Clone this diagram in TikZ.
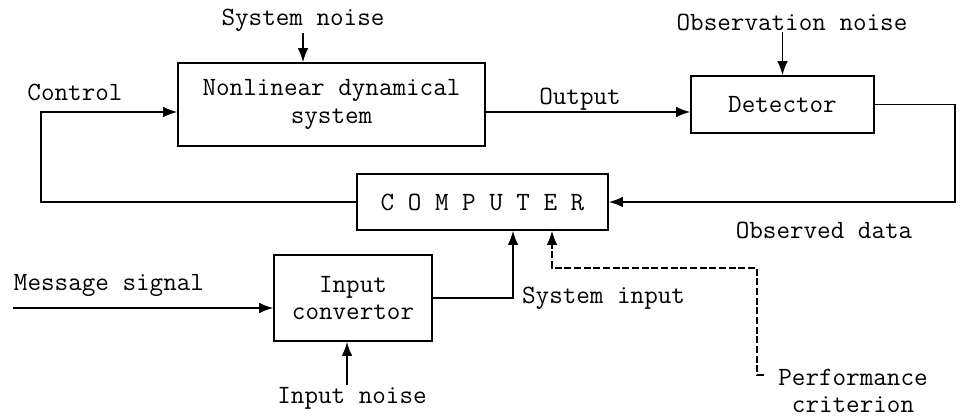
\documentclass[tikz,border=0pt]{standalone}
\usepackage{tikz}
\usetikzlibrary{positioning,arrows.meta}

\begin{document}
\begin{tikzpicture}[
x=0.02cm, y=-0.02cm,
font=\ttfamily\fontsize{15}{15.5}\selectfont,
block/.style={draw, line width=0.9pt, align=center, inner sep=0pt},
lbl/.style={align=center, inner sep=1pt},
arr/.style={-{Latex[length=8pt,width=6pt]}, line width=0.9pt},
>=latex
]
\useasboundingbox (0,0) rectangle (962,418);

% blocks
\node (nds) [block, minimum width=6.14cm, minimum height=1.66cm] at (331.5,104.5) {Nonlinear dynamical\\system};
\node (det) [block, minimum width=3.66cm, minimum height=1.14cm] at (782.5,104.5) {Detector};
\node (comp) [block, minimum width=5.02cm, minimum height=1.12cm] at (482.5,202) {C O M P U T E R};
\node (conv) [block, minimum width=3.16cm, minimum height=1.72cm] at (353,298) {Input\\convertor};

% labels
\node (sysnoise) [lbl] at (303,20) {System noise};
\node (obsnoise) [lbl] at (792,22) {Observation noise};
\node (ctl) [lbl] at (75,92) {Control};
\node (outl) [lbl] at (580,99) {Output};
\node (obsdata) [lbl] at (824,230) {Observed data};
\node (msgl) [lbl] at (109,285) {Message signal};
\node (inoise) [lbl] at (352,398) {Input noise};
\node (sysin) [lbl, anchor=west] at (520,298) {System input};
\node (perf) [lbl] at (853,391) {Performance\\criterion};

% corners
\coordinate (cL) at (41,112);
\coordinate (dR) at (955,202);
\coordinate (msg) at (13,308);
\coordinate (sI) at (513,298);
\coordinate (pcA) at (552,268);
\coordinate (pcB) at (757,268);
\coordinate (pcC) at (757,375);
\coordinate (pcT) at (764,375);

\draw[arr] (sysnoise) -- (sysnoise |- nds.north);
\draw[arr] (obsnoise.south -| det.north) -- (det.north);
\draw[arr] (comp.west) -| (cL) -- (cL -| nds.west);
\draw[arr] ([yshift=-0.15cm]nds.east) -- ([yshift=-0.15cm]nds.east -| det.west);
\draw[arr] (det.east) -| (dR) -- (comp.east);
\draw[arr] (msg) -- (msg -| conv.west);
\draw[arr] ([xshift=-0.1cm]inoise.north) -- ([xshift=-0.1cm]inoise.north |- conv.south);
\draw[arr] (conv.east) -- (sI) -- (sI |- comp.south);
\draw[arr, dash pattern=on 4pt off 1.5pt] (pcT) -- (pcC) -- (pcB) -- (pcA) -- (pcA |- comp.south);

\end{tikzpicture}
\end{document}
